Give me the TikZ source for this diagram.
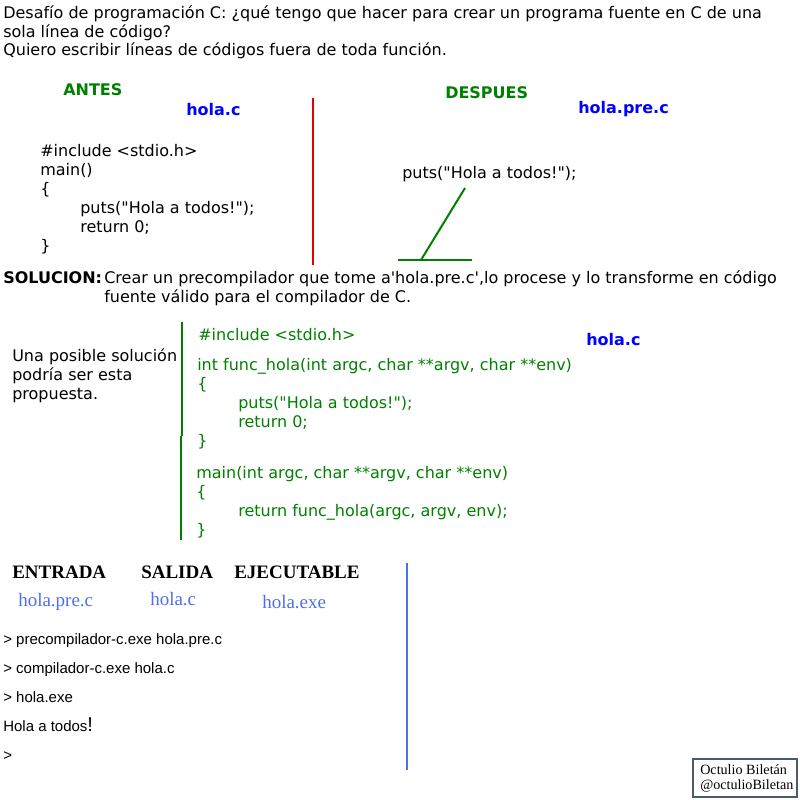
\documentclass[tikz,border=0pt]{standalone}
\usepackage{fontspec}
\setmainfont{DejaVu Sans}[Ligatures=TeXOff]
\newfontfamily\serifF{Liberation Serif}
\newfontfamily\consF{Liberation Sans}[Ligatures=TeXOff]
\definecolor{cgreen}{RGB}{0,128,0}
\definecolor{cblue}{RGB}{0,0,255}
\definecolor{cred}{RGB}{230,0,0}
\definecolor{lblue}{RGB}{80,110,240}
\definecolor{boxgray}{RGB}{75,90,110}
\begin{document}
\begin{tikzpicture}[x=0.75pt,y=-0.75pt,
  txt/.style={anchor=base west,inner sep=0pt,font=\fontsize{12}{14}\selectfont},
  bold/.style={txt,font=\fontsize{12}{14}\selectfont\bfseries},
  grn/.style={txt,text=cgreen},
  fname/.style={bold,text=cblue},
  head/.style={anchor=base west,inner sep=0pt,font=\serifF\fontsize{14.25}{16}\selectfont\bfseries},
  sfile/.style={anchor=base west,inner sep=0pt,text=lblue,font=\serifF\fontsize{14.25}{16}\selectfont},
  cmd/.style={anchor=base west,inner sep=0pt,font=\consF\fontsize{11.25}{13}\selectfont},
  rule/.style={line width=1.5pt}]
\useasboundingbox (0,0) rectangle (800,800);
% title
\node[txt] (t1) at (3,18) {Desafío de programación C: ¿qué tengo que hacer para crear un programa fuente en C de una};
\node[txt] (t2) at (3,37) {sola línea de código?};
\node[txt] (t3) at (3,55) {Quiero escribir líneas de códigos fuera de toda función.};
% before / after
\node[bold,text=cgreen] (antes) at (63,95) {ANTES};
\node[bold,text=cgreen] (despues) at (445,98) {DESPUES};
\node[fname] (f1) at (186,115) {hola.c};
\node[fname] (f2) at (578,113) {hola.pre.c};
\node[txt] (c1) at (40,156) {\#include <stdio.h>};
\node[txt] (c2) at (40,175) {main()};
\node[txt] (c3) at (40,194) {\{};
\node[txt] (c4) at (80,213) {puts("Hola a todos!");};
\node[txt] (c5) at (80,232) {return 0;};
\node[txt] (c6) at (40,251) {\}};
\draw[rule,cred] (313,98) -- (313,265);
\node[txt] (p1) at (402,178) {puts("Hola a todos!");};
\coordinate (g1) at (465,188);
\coordinate (g2) at (421,260);
\coordinate (g3) at (398,260);
\coordinate (g4) at (472,260);
\draw[rule,cgreen] (g1) -- (g2);
\draw[rule,cgreen] (g3) -- (g4);
% solution
\node[bold] (sol) at (3,283) {SOLUCION:};
\node[txt] (s1) at (104,283) {Crear un precompilador que tome a'hola.pre.c',lo procese y lo transforme en código};
\node[txt] (s2) at (104,302) {fuente válido para el compilador de C.};
\node[txt] (u1) at (12,361) {Una posible solución};
\node[txt] (u2) at (12,380) {podría ser esta};
\node[txt] (u3) at (12,399) {propuesta.};
\draw[rule,cgreen] (182,322) -- (182,436);
\draw[rule,cgreen] (181,436) -- (181,540);
\node[grn] (d1) at (198,340) {\#include <stdio.h>};
\node[fname] (f3) at (586,345) {hola.c};
\node[grn] (d2) at (197,370) {int func\_hola(int argc, char **argv, char **env)};
\node[grn] (d3) at (197,389) {\{};
\node[grn] (d4) at (238,408) {puts("Hola a todos!");};
\node[grn] (d5) at (238,427) {return 0;};
\node[grn] (d6) at (197,446) {\}};
\node[grn] (d7) at (196,478) {main(int argc, char **argv, char **env)};
\node[grn] (d8) at (196,497) {\{};
\node[grn] (d9) at (238,516) {return func\_hola(argc, argv, env);};
\node[grn] (d10) at (196,535) {\}};
% bottom
\node[head] (h1) at (12,578) {ENTRADA};
\node[head] (h2) at (141,578) {SALIDA};
\node[head] (h3) at (234,578) {EJECUTABLE};
\node[sfile] (e1) at (18,606) {hola.pre.c};
\node[sfile] (e2) at (150,605) {hola.c};
\node[sfile] (e3) at (262,608) {hola.exe};
\node[cmd] (k1) at (3,644) {> precompilador-c.exe hola.pre.c};
\node[cmd] (k2) at (3,673) {> compilador-c.exe hola.c};
\node[cmd] (k3) at (3,702) {> hola.exe};
\node[cmd] (k4) at (3,731) {Hola a todos{\fontsize{15}{15}\selectfont !}};
\node[cmd] (k5) at (3,760) {>};
\draw[rule,lblue] (407,563) -- (407,770);
% signature box
\draw[line width=1.9pt,boxgray] (693,759) rectangle (797,797);
\node[anchor=base west,inner sep=0pt,font=\serifF\fontsize{10.6}{12}\selectfont] (sg1) at (700,774) {Octulio Biletán};
\node[anchor=base west,inner sep=0pt,font=\serifF\fontsize{10.6}{12}\selectfont] (sg2) at (700,789) {@octulioBiletan};
\end{tikzpicture}
\end{document}
